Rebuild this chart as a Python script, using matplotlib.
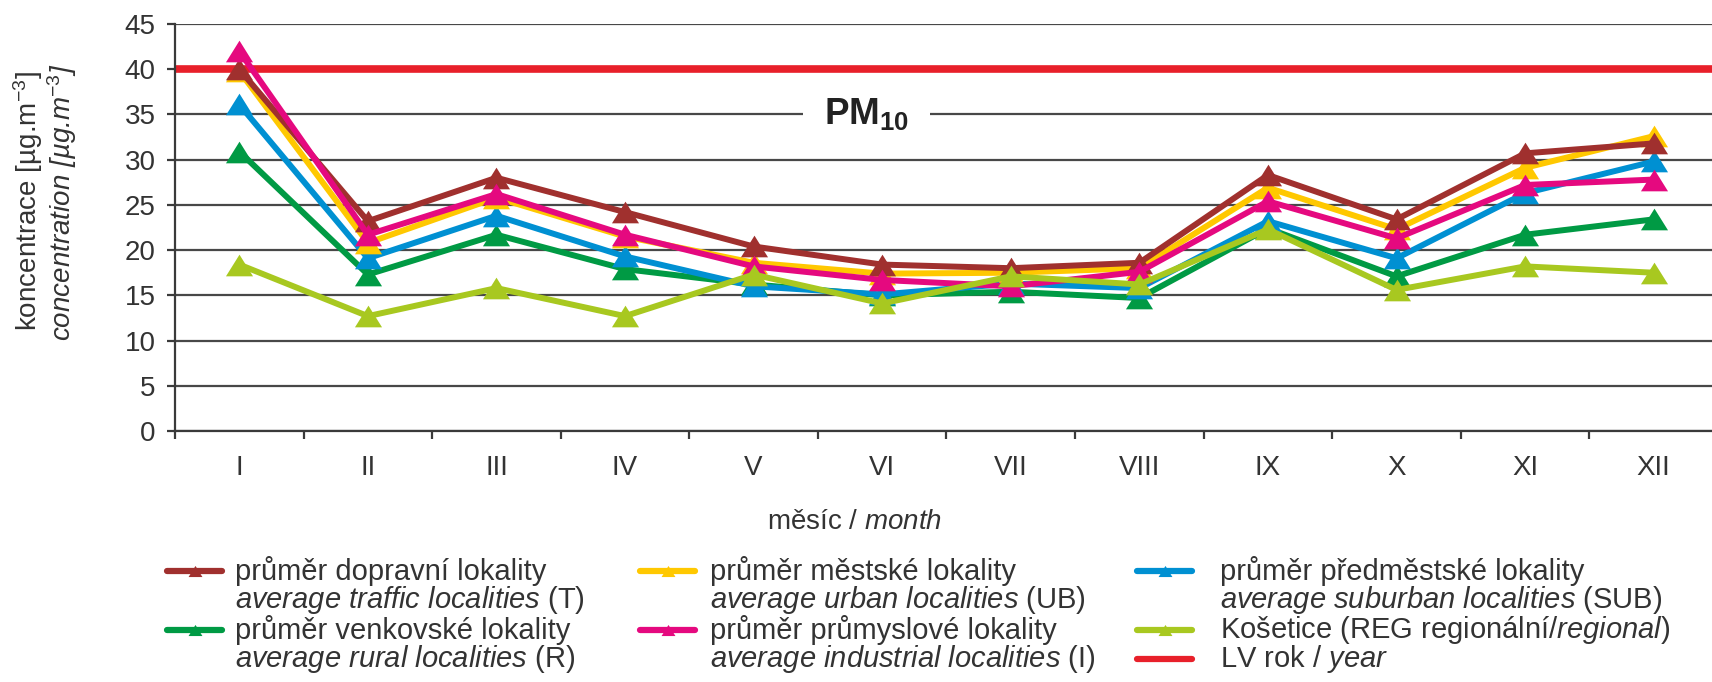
import matplotlib
matplotlib.use("Agg")
import matplotlib.pyplot as plt
from matplotlib.lines import Line2D

plt.rcParams['font.family'] = ['Liberation Sans', 'DejaVu Sans']
plt.rcParams['mathtext.fontset'] = 'custom'
plt.rcParams['mathtext.rm'] = 'Liberation Sans'
plt.rcParams['mathtext.it'] = 'Liberation Sans:italic'
plt.rcParams['mathtext.bf'] = 'Liberation Sans:bold'

# data (monthly averages PM10, ug/m3)
months = ['I', 'II', 'III', 'IV', 'V', 'VI', 'VII', 'VIII', 'IX', 'X', 'XI', 'XII']
traffic = [40.0, 23.2, 28.0, 24.2, 20.4, 18.4, 18.0, 18.6, 28.3, 23.4, 30.7, 31.8]
urban = [39.8, 20.8, 25.8, 21.5, 18.6, 17.4, 17.5, 18.0, 26.9, 22.3, 29.1, 32.6]
suburban = [36.1, 19.1, 23.8, 19.3, 16.0, 15.1, 16.3, 15.8, 23.2, 19.1, 26.3, 29.8]
rural = [30.9, 17.3, 21.7, 17.9, 16.2, 15.0, 15.4, 14.7, 22.4, 17.1, 21.7, 23.4]
industrial = [42.0, 21.7, 26.2, 21.7, 18.2, 16.7, 16.0, 17.6, 25.4, 21.3, 27.2, 27.8]
kosetice = [18.4, 12.7, 15.8, 12.7, 17.3, 14.1, 17.1, 16.2, 22.3, 15.6, 18.2, 17.5]
limit_value = 40

c_traffic = '#a0302e'
c_urban = '#ffc800'
c_suburban = '#0090d2'
c_rural = '#009a44'
c_industrial = '#e5097f'
c_kosetice = '#a8c820'
c_limit = '#e8202a'
txt = '#333333'

W, H = 1712, 682
fig = plt.figure(figsize=(W / 100, H / 100), dpi=100)
ax = fig.add_axes([175 / W, 1 - 431 / H, 1543 / W, (431 - 24) / H])

x = list(range(len(months)))
tri = [(0, 0.8), (-1, -0.8), (1, -0.8)]

ax.axhline(limit_value, color=c_limit, lw=5.5, zorder=2)
series = [(rural, c_rural), (suburban, c_suburban), (urban, c_urban),
          (traffic, c_traffic), (industrial, c_industrial), (kosetice, c_kosetice)]
for vals, col in series:
    ax.plot(x, vals, color=col, lw=4.3, marker=tri, markersize=19.5,
            markeredgewidth=0, zorder=3)

ax.set_xlim(-0.5, 11.5)
ax.set_ylim(0, 45)
ax.set_yticks(range(0, 46, 5))
ax.set_xticks(x)
ax.set_xticklabels(months)
ax.set_xticks([i - 0.5 for i in range(13)], minor=True)
ax.tick_params(axis='x', which='major', length=0, pad=17, labelsize=20, labelcolor=txt)
ax.tick_params(axis='x', which='minor', length=6, width=1.6, color='#3a3a3a', direction='out')
ax.tick_params(axis='y', length=6, width=1.6, color='#3a3a3a', pad=8, labelsize=20, labelcolor=txt)

ax.yaxis.grid(True, color='#484848', lw=1.6)
ax.set_axisbelow(True)
for s in ['top', 'right']:
    ax.spines[s].set_visible(False)
for s in ['left', 'bottom']:
    ax.spines[s].set_color('#3a3a3a')
    ax.spines[s].set_linewidth(1.6)

ax.text(0.448, 35, r'$\mathbf{PM_{10}}$', transform=ax.get_yaxis_transform(),
        ha='center', va='center', fontsize=26.5, color='#222222', zorder=4,
        bbox=dict(facecolor='white', edgecolor='none', pad=15))

# axis titles
fig.text(28 / W, 1 - 201 / H, 'koncentrace [µg.m$^{-3}$]', rotation=90,
         ha='center', va='center', fontsize=20, color=txt)
fig.text(62 / W, 1 - 202 / H, 'concentration [µg.m$^{-3}$]', rotation=90,
         ha='center', va='center', fontsize=20, color=txt, style='italic')
fig.text(854 / W, 1 - 522 / H, r'měsíc / $\mathit{month}$', ha='center', va='center',
         fontsize=20, color=txt)

# legend
rows = [571, 600, 630, 659]
cols = [(167, 222, 235), (640, 695, 710), (1137, 1192, 1220)]
entries = [
    (c_traffic, True, 0, 0, 'průměr dopravní lokality', r'$\mathit{average\ traffic\ localities}$ (T)'),
    (c_urban, True, 1, 0, 'průměr městské lokality', r'$\mathit{average\ urban\ localities}$ (UB)'),
    (c_suburban, True, 2, 0, 'průměr předměstské lokality', r'$\mathit{average\ suburban\ localities}$ (SUB)'),
    (c_rural, True, 0, 2, 'průměr venkovské lokality', r'$\mathit{average\ rural\ localities}$ (R)'),
    (c_industrial, True, 1, 2, 'průměr průmyslové lokality', r'$\mathit{average\ industrial\ localities}$ (I)'),
    (c_kosetice, True, 2, 2, r'Košetice (REG regionální/$\mathit{regional}$)', None),
    (c_limit, False, 2, 3, r'LV rok / $\mathit{year}$', None),
]
for col, has_marker, ci, ri, l1, l2 in entries:
    x0, x1, xt = cols[ci]
    yy = 1 - rows[ri] / H
    fig.add_artist(Line2D([x0 / W, x1 / W], [yy, yy], transform=fig.transFigure,
                          color=col, lw=4.5, solid_capstyle='round'))
    if has_marker:
        fig.add_artist(Line2D([(x0 + x1) / 2 / W], [yy], transform=fig.transFigure,
                              color=col, marker=tri, markersize=10, markeredgewidth=0))
    fig.text(xt / W, yy, l1, ha='left', va='center', fontsize=21, color=txt)
    if l2:
        fig.text(xt / W, 1 - rows[ri + 1] / H, l2, ha='left', va='center',
                 fontsize=21, color=txt)

fig.savefig('out.png', dpi=100)
